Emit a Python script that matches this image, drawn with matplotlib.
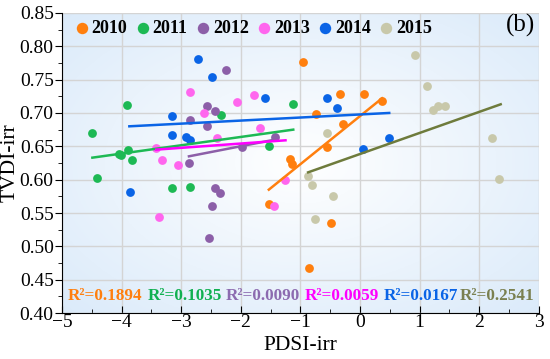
import matplotlib.pyplot as plt
import numpy as np

plt.rcParams['font.family'] = ['Liberation Serif', 'DejaVu Serif']

years = ['2010', '2011', '2012', '2013', '2014', '2015']

# PDSI-irr / TVDI-irr values
x2010 = [-0.95, -0.34, 0.06, 0.37, -0.74, -0.28, -0.56, -1.18, -1.14, -1.53, -0.49, -0.85]
y2010 = [0.777, 0.729, 0.729, 0.718, 0.699, 0.684, 0.649, 0.631, 0.623, 0.564, 0.535, 0.468]
x2011 = [-3.91, -1.13, -2.34, -4.49, -1.53, -4.05, -4.01, -3.90, -3.83, -4.42, -3.16, -2.85]
y2011 = [0.712, 0.713, 0.697, 0.670, 0.651, 0.638, 0.637, 0.644, 0.630, 0.602, 0.588, 0.589]
x2012 = [-2.25, -2.57, -2.44, -2.86, -2.57, -1.43, -1.98, -2.87, -2.44, -2.35, -2.48, -2.53]
y2012 = [0.764, 0.710, 0.703, 0.690, 0.680, 0.664, 0.649, 0.625, 0.587, 0.580, 0.560, 0.513]
x2013 = [-2.86, -2.06, -1.78, -2.62, -1.68, -2.40, -3.42, -3.33, -3.05, -3.38, -1.44, -1.26]
y2013 = [0.732, 0.717, 0.727, 0.700, 0.678, 0.662, 0.648, 0.630, 0.622, 0.544, 0.560, 0.599]
x2014 = [-2.71, -2.48, -1.59, -3.15, -3.15, -2.92, -2.86, -3.86, -0.56, -0.38, 0.48, 0.05]
y2014 = [0.781, 0.754, 0.723, 0.695, 0.667, 0.664, 0.659, 0.582, 0.723, 0.707, 0.663, 0.646]
x2015 = [0.92, 1.12, 1.22, 1.31, 1.43, -0.55, 2.22, 2.34, -0.87, -0.81, -0.45, -0.76]
y2015 = [0.787, 0.740, 0.704, 0.710, 0.711, 0.670, 0.662, 0.601, 0.606, 0.592, 0.575, 0.541]

xs = [x2010, x2011, x2012, x2013, x2014, x2015]
ys = [y2010, y2011, y2012, y2013, y2014, y2015]

# fitted lines (end points as drawn)
fit_x = [(-1.53, 0.37), (-4.49, -1.12), (-2.87, -1.43), (-3.42, -1.25), (-3.87, 0.49), (-0.87, 2.36)]
fit_y = [(0.585, 0.722), (0.633, 0.675), (0.635, 0.660), (0.645, 0.659), (0.680, 0.700), (0.611, 0.713)]
r2 = ['0.1894', '0.1035', '0.0090', '0.0059', '0.0167', '0.2541']

dot_colors = ['#FF7F0E', '#1DB954', '#8C5FA8', '#FF66EE', '#0A64E6', '#C8C8AA']
line_colors = ['#FF7F0E', '#1DB954', '#8C5FA8', '#FF00FF', '#0A64E6', '#6E7B3C']
text_colors = ['#FF7F0E', '#10B050', '#8C6BB0', '#FF00FF', '#0A64E6', '#7A8050']

fig = plt.figure(figsize=(5.5, 3.59), dpi=100)
ax = fig.add_axes([0.1127, 0.128, 0.867, 0.836])

# soft radial background
gx, gy = np.meshgrid(np.linspace(-1, 1, 300), np.linspace(-1, 1, 200))
rr = np.clip(np.sqrt(gx**2 + gy**2) / 1.4, 0, 1)
c0 = np.array([1.0, 1.0, 1.0])
c1 = np.array([0.86, 0.92, 0.98])
img = c0 + (c1 - c0) * rr[..., None]
ax.imshow(img, extent=[-5, 3, 0.40, 0.85], aspect='auto', zorder=0)

ax.grid(True, color='#D4D4D4', lw=1, zorder=1)

for i in range(6):
    ax.scatter(xs[i], ys[i], s=40, color=dot_colors[i], label=years[i], zorder=3, linewidths=0)
    ax.plot(fit_x[i], fit_y[i], color=line_colors[i], lw=1.8, zorder=4)

text_x = [-4.9, -3.57, -2.25, -0.92, 0.39, 1.68]
for i in range(6):
    ax.text(text_x[i], 0.425, 'R²=' + r2[i], color=text_colors[i], fontsize=12.3,
            fontweight='bold', ha='left', va='center', zorder=5)

ax.text(0.992, 0.998, '(b)', transform=ax.transAxes, fontsize=18, ha='right', va='top')

leg = ax.legend(loc='upper left', ncol=6, frameon=False, handletextpad=0.25,
                handlelength=0.6, columnspacing=0.55, borderaxespad=0.0,
                bbox_to_anchor=(0.015, 1.0),
                prop={'weight': 'bold', 'size': 13, 'family': 'Liberation Serif'},
                markerscale=1.3)

ax.set_xlim(-5, 3)
ax.set_ylim(0.40, 0.85)
ax.set_xticks(np.arange(-5, 3.1, 1))
ax.set_xticks(np.arange(-5, 3.1, 0.5), minor=True)
ax.set_yticks(np.arange(0.40, 0.851, 0.05))
ax.set_yticks(np.arange(0.40, 0.851, 0.025), minor=True)
ax.set_xticklabels(['\u22125', '\u22124', '\u22123', '\u22122', '\u22121', '0', '1', '2', '3'])
ax.yaxis.set_major_formatter(plt.FormatStrFormatter('%.2f'))
ax.tick_params(axis='x', which='both', direction='in', labelsize=14, pad=1)
ax.tick_params(axis='y', which='both', direction='out', labelsize=14, pad=1)
ax.tick_params(which='major', length=5)
ax.tick_params(which='minor', length=3)
ax.spines['top'].set_visible(False)
ax.spines['right'].set_visible(False)
ax.set_xlabel('PDSI-irr', fontsize=15.5)
ax.set_ylabel('TVDI-irr', fontsize=15.5)
ax.xaxis.set_label_coords(0.5, -0.075)
ax.yaxis.set_label_coords(-0.088, 0.5)

fig.savefig('out.png', dpi=100)
